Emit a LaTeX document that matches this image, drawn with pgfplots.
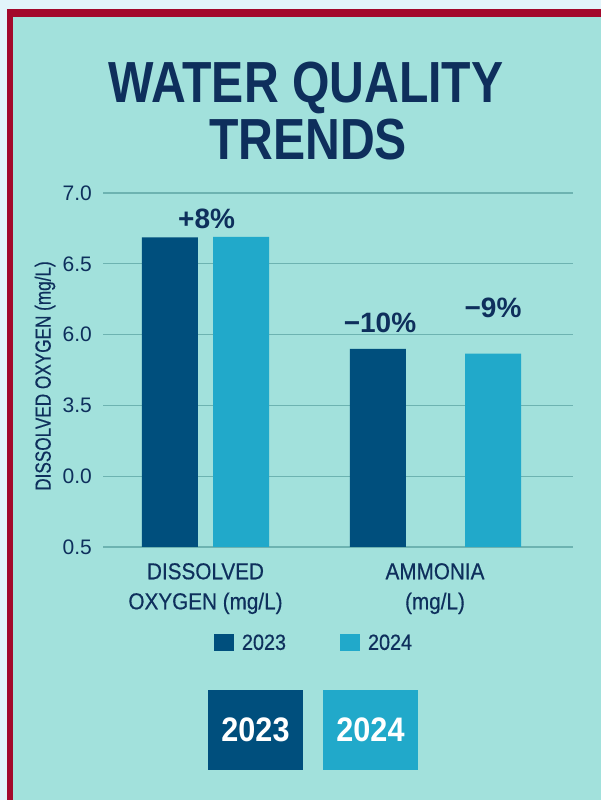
\documentclass[border=0pt]{standalone}
\usepackage{pgfplots}
\pgfplotsset{compat=1.18}
\usepackage{fontspec}
\setmainfont{Liberation Sans}
\newfontfamily\titlefont[FakeStretch=0.83]{Liberation Sans}
\newfontfamily\cnd[FakeStretch=0.78,FakeBold=0.4]{Liberation Sans}
\newfontfamily\semi[FakeStretch=0.9]{Liberation Sans}
\newfontfamily\catfont[FakeStretch=0.9,FakeBold=0.5]{Liberation Sans}

\definecolor{navy}{HTML}{0E2F5C}
\definecolor{bgteal}{HTML}{A2E1DC}
\definecolor{outer}{HTML}{E2F4FA}
\definecolor{frame}{HTML}{A3092C}
\definecolor{darkbar}{HTML}{004F7D}
\definecolor{lightbar}{HTML}{21A9CA}
\definecolor{gridc}{HTML}{6DB3B1}

\begin{document}
\begin{tikzpicture}[x=1pt,y=1pt]
% page background and frame
\useasboundingbox (0,0) rectangle (601,800);
\fill[outer] (0,0) rectangle (601,800);
\fill[frame] (7,0) rectangle (601,791);
\fill[bgteal] (13,0) rectangle (601,783);

% title
\node[anchor=base, text=navy, font=\titlefont\bfseries\fontsize{58}{58}\selectfont, inner sep=0] at (306,697) {WATER QUALITY};
\node[anchor=base, text=navy, font=\titlefont\bfseries\fontsize{58}{58}\selectfont, inner sep=0] at (308,640) {TRENDS};

\begin{axis}[
    at={(103pt,253pt)}, anchor=south west,
    scale only axis,
    width=470pt, height=354pt,
    xmin=-0.4466, xmax=1.6013,
    ymin=0, ymax=5,
    clip=false,
    axis line style={draw=none},
    major tick length=0pt,
    ymajorgrids=true,
    grid style={gridc, line width=1.3pt},
    ytick={0,1,2,3,4,5},
    yticklabels={0.5,0.0,3.5,6.0,6.5,7.0},
    yticklabel style={font=\fontsize{21}{21}\selectfont, text=navy, inner sep=0pt, xshift=-11pt},
    xtick={0,1},
    xticklabels={DISSOLVED\\OXYGEN (mg/L), AMMONIA\\(mg/L)},
    xticklabel style={font=\catfont\fontsize{23}{30}\selectfont, text=navy, align=center, inner sep=0pt, yshift=-16pt},
    /pgf/number format/assume math mode=true,
    ylabel={DISSOLVED OXYGEN (mg/L)},
    every axis y label/.style={at={(axis description cs:-0.1234,0.483)}, rotate=90, anchor=center},
    ylabel style={font=\cnd\fontsize{22}{22}\selectfont, text=navy},
    ybar, bar width=56pt,
    legend style={at={(axis description cs:0.449,-0.271)}, anchor=center, draw=none, fill=none,
        legend columns=2, font=\catfont\fontsize{22}{22}\selectfont, text=navy,
        /tikz/every odd column/.append style={column sep=6pt},
        /tikz/every even column/.append style={column sep=52pt}},
    legend image code/.code={\fill[#1] (0pt,-8.5pt) rectangle (20pt,8.5pt);},
]
\addplot[fill=darkbar, draw=none, bar shift=0pt] coordinates {(-0.1547,4.374) (0.7516,2.797)};
\addplot[fill=lightbar, draw=none, bar shift=0pt] coordinates {(0.1547,4.38) (1.2527,2.73)};
\legend{2023, 2024}

\node[text=navy, font=\bfseries\fontsize{28}{28}\selectfont] at (axis cs:0.005,4.63) {+8\%};
\node[text=navy, font=\bfseries\fontsize{28}{28}\selectfont] at (axis cs:0.7603,3.16) {\textminus10\%};
\node[text=navy, font=\bfseries\fontsize{28}{28}\selectfont] at (axis cs:1.2527,3.38) {\textminus9\%};
\end{axis}

% bottom year boxes
\node[fill=darkbar, minimum width=95pt, minimum height=80pt, inner sep=0, text=white,
      font=\semi\bfseries\fontsize{34}{34}\selectfont] at (255.5,70) {2023};
\node[fill=lightbar, minimum width=95pt, minimum height=80pt, inner sep=0, text=white,
      font=\semi\bfseries\fontsize{34}{34}\selectfont] at (370.5,70) {2024};
\end{tikzpicture}
\end{document}
